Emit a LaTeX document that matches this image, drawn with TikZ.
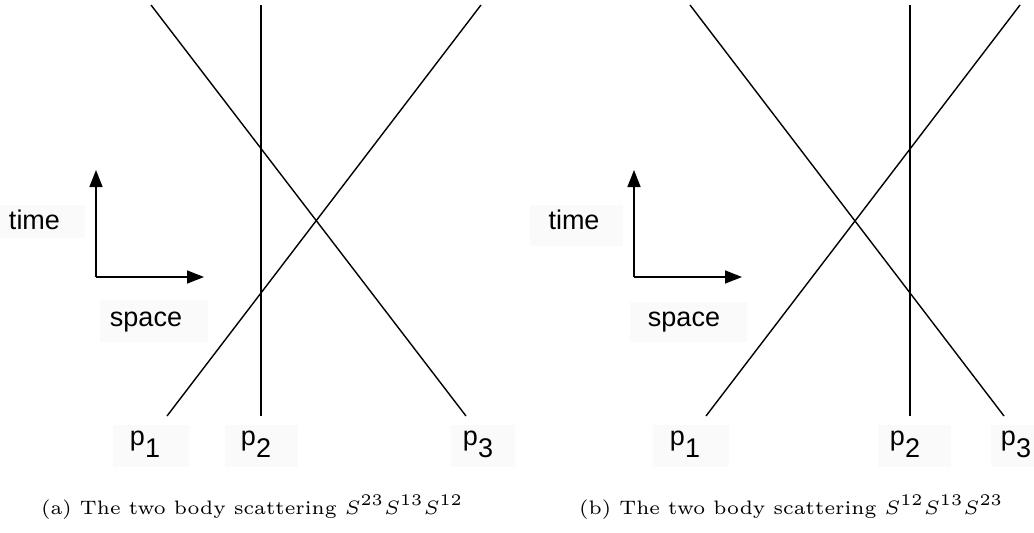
\documentclass[tikz,border=0pt]{standalone}
\usepackage{fontspec}
\usepackage{graphicx}
\newfontfamily\labfont{Liberation Sans}
\usetikzlibrary{arrows.meta}
\newcommand\plab[1]{p\raisebox{-12pt}{#1}}
\newcommand\capfont{\fontsize{6}{7}\selectfont}
\begin{document}
\begin{tikzpicture}[x=1pt,y=-1pt,
  wl/.style={line width=1.4pt},
  ax/.style={line width=1.5pt,-{Triangle[length=17pt,width=13pt]}},
  lab/.style={font=\labfont\fontsize{27}{27}\selectfont, inner sep=0pt, anchor=base},
  bg/.style={fill=black!2, draw=none},
  capbox/.style={inner sep=0pt, anchor=base west}]
\useasboundingbox (0,0) rectangle (1034,533);

% ---------- panel (a) ----------
\fill[bg] (0,205) rectangle (85,238);
\fill[bg] (100,300) rectangle (208,342);
\fill[bg] (113,425) rectangle (189,467);
\fill[bg] (225,425) rectangle (298,467);
\fill[bg] (451,425) rectangle (515,467);

\coordinate (aAtop) at (151,5);   \coordinate (aAbot) at (466,416);
\coordinate (aBbot) at (167,416); \coordinate (aBtop) at (481,5);
\coordinate (aCtop) at (261,5);   \coordinate (aCbot) at (261,416);
\draw[wl] (aAtop) -- (aAbot);
\draw[wl] (aBbot) -- (aBtop);
\draw[wl] (aCtop) -- (aCbot);

\coordinate (aO) at (96,277);
\coordinate (aT) at (96,170);
\coordinate (aS) at (204,277);
\draw[ax] (aO) -- (aT);
\draw[ax] (aO) -- (aS);

\node[lab] (atime) at (34.5,229) {time};
\node[lab] (aspace) at (146,326) {space};
\node[lab] (ap1) at (145,445) {\plab{1}};
\node[lab] (ap2) at (256,445) {\plab{2}};
\node[lab] (ap3) at (478,445) {\plab{3}};

\node[capbox] (acap) at (41,514) {\resizebox{422pt}{!}{\capfont (a) The two body scattering $S^{23}S^{13}S^{12}$}};

% ---------- panel (b) ----------
\fill[bg] (530,205) rectangle (623,246);
\fill[bg] (630,302) rectangle (747,342);
\fill[bg] (653,425) rectangle (729,467);
\fill[bg] (878,425) rectangle (951,467);
\fill[bg] (991,425) rectangle (1034,467);

\coordinate (bAtop) at (690,5);    \coordinate (bAbot) at (1004,416);
\coordinate (bBbot) at (706,416);  \coordinate (bBtop) at (1020,5);
\coordinate (bCtop) at (910,5);    \coordinate (bCbot) at (910,416);
\draw[wl] (bAtop) -- (bAbot);
\draw[wl] (bBbot) -- (bBtop);
\draw[wl] (bCtop) -- (bCbot);

\coordinate (bO) at (634,277);
\coordinate (bT) at (634,170);
\coordinate (bS) at (742,277);
\draw[ax] (bO) -- (bT);
\draw[ax] (bO) -- (bS);

\node[lab] (btime) at (574,229) {time};
\node[lab] (bspace) at (684,326) {space};
\node[lab] (bp1) at (685,445) {\plab{1}};
\node[lab] (bp2) at (905,445) {\plab{2}};
\node[lab] (bp3) at (1016,445) {\plab{3}};

\node[capbox] (bcap) at (579,514) {\resizebox{424pt}{!}{\capfont (b) The two body scattering $S^{12}S^{13}S^{23}$}};
\end{tikzpicture}
\end{document}
